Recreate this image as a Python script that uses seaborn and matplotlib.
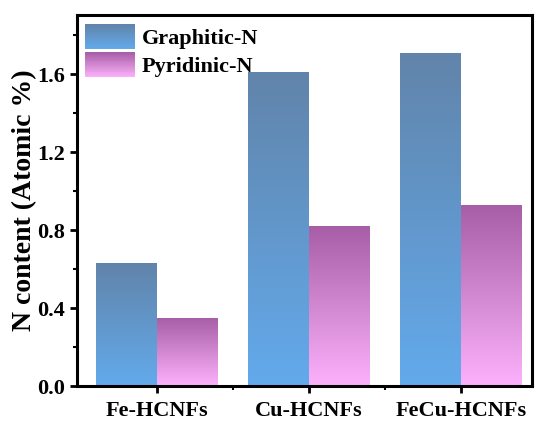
import numpy as np
import pandas as pd
import matplotlib
matplotlib.use("Agg")
import matplotlib.pyplot as plt
import seaborn as sns
from matplotlib.colors import to_rgb
from matplotlib.legend_handler import HandlerBase
from matplotlib.patches import Patch, Rectangle
from matplotlib.ticker import MultipleLocator, FixedLocator

samples = ["Fe-HCNFs", "Cu-HCNFs", "FeCu-HCNFs"]
series = ["Graphitic-N", "Pyridinic-N"]
graphitic = [0.63, 1.61, 1.71]
pyridinic = [0.35, 0.82, 0.93]
yticks = [0.0, 0.4, 0.8, 1.2, 1.6]

# gradient colours (top, bottom)
grad = {
    "Graphitic-N": ("#6184aa", "#63aaec"),
    "Pyridinic-N": ("#a75ea6", "#fdb1fc"),
}

df = pd.DataFrame({
    "sample": samples * 2,
    "type": [series[0]] * 3 + [series[1]] * 3,
    "value": graphitic + pyridinic,
})

sns.set_style("ticks")
plt.rcParams["font.family"] = ["Liberation Serif", "DejaVu Serif"]
plt.rcParams["font.weight"] = "bold"
for k in ["text.color", "axes.labelcolor", "xtick.color", "ytick.color",
          "xtick.labelcolor", "ytick.labelcolor"]:
    plt.rcParams[k] = "black"

fig, ax = plt.subplots(figsize=(5.37, 4.21), dpi=100)
fig.subplots_adjust(left=0.143, right=0.991, top=0.964, bottom=0.083)

sns.barplot(data=df, x="sample", y="value", hue="type", order=samples,
            hue_order=series, width=0.8, palette=[grad[s][1] for s in series],
            legend=False, ax=ax, linewidth=0)

def gradient_img(top, bottom, n=256):
    t = np.linspace(0, 1, n)[:, None]
    ct, cb = np.array(to_rgb(top)), np.array(to_rgb(bottom))
    arr = cb[None, :] * (1 - t) + ct[None, :] * t
    return arr[:, None, :]

for cont, s in zip(ax.containers, series):
    for bar in cont:
        x, y = bar.get_x(), bar.get_y()
        w, h = bar.get_width(), bar.get_height()
        bar.set_facecolor("none")
        img = ax.imshow(gradient_img(*grad[s]), extent=[x, x + w, y, y + h],
                        origin="lower", aspect="auto", zorder=2,
                        interpolation="bilinear")
        img.set_clip_path(bar)

ax.set_xlim(-0.526, 2.467)
ax.set_ylim(0, 1.903)
ax.set_yticks(yticks)
ax.set_yticklabels([f"{v:.1f}" for v in yticks])
ax.yaxis.set_minor_locator(MultipleLocator(0.2))
ax.xaxis.set_minor_locator(FixedLocator([0.5, 1.5]))

for sp in ax.spines.values():
    sp.set_visible(True)
    sp.set_linewidth(2.2)
    sp.set_color("black")

ax.tick_params(axis="both", which="major", direction="out", length=5, width=2,
               labelsize=16, colors="black")
ax.tick_params(axis="x", which="major", pad=6)
ax.tick_params(axis="both", which="minor", direction="out", length=3, width=1.5,
               colors="black")
for lab in ax.get_xticklabels() + ax.get_yticklabels():
    lab.set_fontweight("bold")

ax.set_xlabel("")
ax.set_ylabel("N content (Atomic %)", fontsize=20, fontweight="bold",
              labelpad=0, color="black")


class GradHandler(HandlerBase):
    def create_artists(self, legend, orig_handle, xdescent, ydescent, width,
                       height, fontsize, trans):
        top, bottom = orig_handle.grad
        n = 30
        arts = []
        ct, cb = np.array(to_rgb(top)), np.array(to_rgb(bottom))
        for i in range(n):
            t = i / (n - 1)
            c = cb * (1 - t) + ct * t
            r = Rectangle((-xdescent, -ydescent + height * i / n), width,
                          height / n + 0.3, facecolor=c, edgecolor="none",
                          transform=trans)
            arts.append(r)
        return arts


handles = []
for s in series:
    p = Patch(label=s)
    p.grad = grad[s]
    handles.append(p)

ax.legend(handles=handles, labels=series, loc="upper left",
          bbox_to_anchor=(0.0176, 0.976), borderaxespad=0, borderpad=0,
          frameon=False,
          handler_map={Patch: GradHandler()}, handlelength=2.25,
          handleheight=1.38, labelspacing=0.12, handletextpad=0.3,
          prop={"size": 16, "weight": "bold"}, labelcolor="black")

fig.savefig("out.png", dpi=100)
